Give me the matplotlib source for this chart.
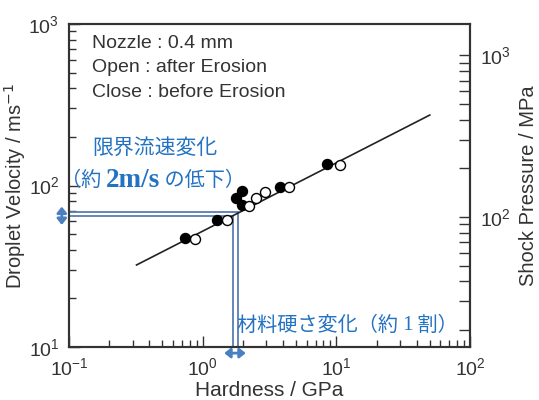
import numpy as np
import matplotlib.pyplot as plt

plt.rcParams['font.family'] = ['Liberation Sans', 'Noto Sans CJK JP', 'DejaVu Sans']
plt.rcParams['axes.unicode_minus'] = False

# Close : before Erosion (filled), Open : after Erosion (open)
close_x = [0.74, 1.27, 1.77, 1.96, 1.96, 3.78, 8.55]     # GPa
close_y = [47.1, 61.1, 83.4, 92.9, 75.7, 98.4, 135.8]    # m/s
open_x = [0.88, 1.51, 2.23, 2.50, 2.92, 4.45, 10.6]
open_y = [46.4, 61.1, 74.7, 83.4, 91.6, 97.5, 133.9]
fit_x = [0.32, 50.0]
fit_y = [32.2, 273.0]

# annotation (critical velocity / hardness change)
vel_band = [64.7, 68.5]
hard_band = [1.685, 1.837]

legend_lines = ['Nozzle : 0.4 mm', 'Open : after Erosion', 'Close : before Erosion']

blue = '#2373c2'
lineblue = '#5a7db3'
ink = '#333333'

fig = plt.figure(figsize=(5.39, 4.0), dpi=100)
ax = fig.add_axes([69/539, 53/400, 401/539, 323/400])
ax.set_xscale('log')
ax.set_yscale('log')
ax.set_xlim(0.1, 100)
ax.set_ylim(10, 1000)

ax.plot(fit_x, fit_y, color='#222222', lw=1.2, zorder=3)
ax.plot(close_x, close_y, 'o', ms=7.2, mfc='black', mec='black', zorder=4)
ax.plot(open_x, open_y, 'o', ms=7.2, mfc='white', mec='black', mew=1.0, zorder=5)

# blue guide lines (double)
ax.plot([0.1, hard_band[1], hard_band[1]], [vel_band[1], vel_band[1], 10],
        color=lineblue, lw=1.3, zorder=2, solid_joinstyle='miter')
ax.plot([0.1, hard_band[0], hard_band[0]], [vel_band[0], vel_band[0], 10],
        color=lineblue, lw=1.3, zorder=2, solid_joinstyle='miter')

# double arrows outside the axes
ax.annotate('', xy=(-0.018, 74.0), xytext=(-0.018, 57.0),
            xycoords=ax.get_yaxis_transform(), textcoords=ax.get_yaxis_transform(),
            arrowprops=dict(arrowstyle='<|-|>,head_length=0.35,head_width=0.28',
                            color='#4a7fc0', lw=2.0, shrinkA=0, shrinkB=0),
            annotation_clip=False)
ax.annotate('', xy=(1.45, -0.019), xytext=(2.1, -0.019),
            xycoords=ax.get_xaxis_transform(), textcoords=ax.get_xaxis_transform(),
            arrowprops=dict(arrowstyle='<|-|>,head_length=0.35,head_width=0.28',
                            color='#4a7fc0', lw=2.0, shrinkA=0, shrinkB=0),
            annotation_clip=False)

for i, s in enumerate(legend_lines):
    ax.text(0.057, 0.941 - i*0.076, s, transform=ax.transAxes, fontsize=14,
            color=ink, va='center', ha='left')


def chain(parts, x, y):
    kw0 = dict(fontsize=14.5)
    kw0.update(parts[0][1])
    t = ax.text(x, y, parts[0][0], transform=ax.transAxes, color=blue,
                va='center', ha='left', **kw0)
    for s, kw in parts[1:]:
        kw1 = dict(fontsize=14.5)
        kw1.update(kw)
        t = ax.annotate(s, xy=(1, 0.5), xycoords=t, color=blue,
                        va='center', ha='left', **kw1)


cjk = dict(family=['Noto Sans CJK JP', 'DejaVu Sans'])
serifb = dict(family=['Liberation Serif', 'DejaVu Serif'], fontweight='bold', fontsize=19.5)
serif = dict(family=['Liberation Serif', 'DejaVu Serif'], fontsize=15.5)

ax.text(0.057, 0.616, '限界流速変化', transform=ax.transAxes, color=blue,
        fontsize=15, va='center', ha='left', **cjk)
chain([('（約 ', cjk), ('2m/s', serifb), (' の低下）', cjk)], -0.02, 0.517)
chain([('材料硬さ変化（約 ', cjk), ('1', serif), (' 割）', cjk)], 0.418, 0.068)

ax.tick_params(which='both', direction='in', top=False, right=False,
               labelsize=14, labelcolor=ink, color='#333333', width=1.0)
ax.tick_params(which='major', length=8, pad=7)
ax.tick_params(which='minor', length=5)
for sp in ax.spines.values():
    sp.set_linewidth(1.5)
    sp.set_color('#333333')

ax.set_xlabel('Hardness / GPa', fontsize=15, color=ink, labelpad=2)
ax.set_ylabel('Droplet Velocity / ms$^{-1}$', fontsize=14.5, color=ink)
ax.yaxis.set_label_coords(-0.102, 0.5)

ax2 = ax.twinx()
ax2.set_yscale('log')
ax2.set_ylim(10**1.195, 10**3.195)
ax2.tick_params(which='both', direction='in', labelsize=14, labelcolor=ink,
                color='#333333', width=1.0)
ax2.tick_params(which='major', length=8, pad=7)
ax2.tick_params(which='minor', length=8)
ax2.set_ylabel('Shock Pressure / MPa', fontsize=14.5, color=ink)
ax2.yaxis.set_label_coords(1.122, 0.5)
for sp in ax2.spines.values():
    sp.set_linewidth(1.5)
    sp.set_color('#333333')

fig.savefig('out.png', dpi=100)
